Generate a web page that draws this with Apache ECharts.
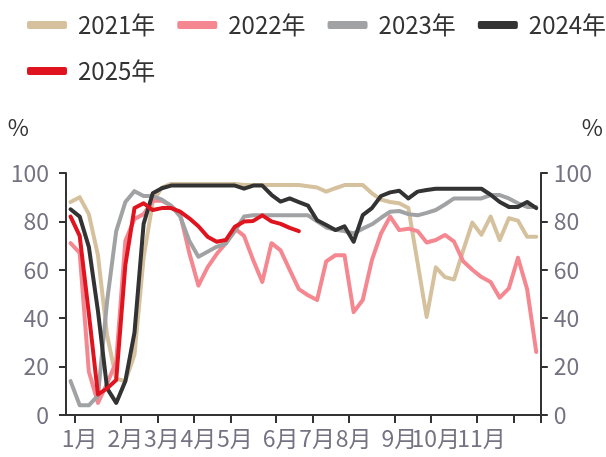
<!DOCTYPE html>
<html>
<head>
<meta charset="utf-8">
<script src="https://cdn.jsdelivr.net/npm/echarts@6/dist/echarts.min.js"></script>
<style>
  html, body { margin: 0; padding: 0; background: #ffffff; }
  #chart { width: 606px; height: 457px; }
</style>
</head>
<body>
<div id="chart"></div>
<script>
// Weekly utilisation rate (%), 52 weeks per year
const weekCount = 52;
const monthLabels = ['1月', '2月', '3月', '4月', '5月', '6月', '7月', '8月', '9月', '10月', '11月', ''];
const monthStartWeek = [1, 6, 10, 14, 18, 23, 27, 31, 36, 40, 45, 49];

const seriesNames = ['2021年', '2022年', '2023年', '2024年', '2025年'];

const y2021 = [88, 90, 83, 66, 33, 15, 14, 25, 65, 88,
  94, 95.5, 95.5, 95.5, 95.5, 95.5, 95.5, 95.5, 95.5, 95,
  95, 95, 95, 95, 95, 95, 94.5, 94, 92.3, 93.7,
  95, 95, 95, 91.6, 89, 88, 87.5, 85.5, 63, 40.5,
  61, 57, 56, 68, 79.5, 74.5, 82, 72.3, 81.3, 80.3,
  73.7, 73.7];

const y2022 = [71, 67, 18, 5, 13, 22, 72, 81, 83, 88.5,
  88.5, 86.5, 83, 67, 53.5, 61, 66.5, 71, 77, 74,
  64, 55, 71, 68, 60, 52, 49.5, 47.5, 63.5, 66,
  66, 42.5, 47.5, 64, 75, 82, 76.4, 77, 76, 71.3,
  72.3, 74.4, 71.6, 63.5, 60, 57, 55, 48.5, 52.3, 65,
  52, 26];

const y2023 = [14, 4, 4, 8, 47, 76, 88, 92.5, 90.5, 90.5,
  89, 86.5, 82, 72, 65.4, 67.5, 69.5, 70.8, 76, 82,
  82.5, 82.5, 82.5, 82.5, 82.5, 82.5, 82.5, 80, 77.5, 76.5,
  76, 75, 77, 78.8, 81.5, 84, 84.3, 83, 82.5, 83.5,
  84.7, 87, 89.5, 89.5, 89.5, 89.5, 90.9, 90.9, 89.5, 87.5,
  86, 86];

const y2024 = [85, 82, 69.5, 43, 11, 5, 14, 34, 79, 91.6,
  93.7, 94.8, 94.8, 94.8, 94.8, 94.8, 94.8, 94.8, 94.8, 93.5,
  94.8, 94.8, 91, 88.2, 89.5, 88, 86.5, 80.5, 78.5, 76.4,
  78, 71.6, 82.6, 85.5, 90.5, 92, 92.7, 89.5, 92.3, 93,
  93.5, 93.5, 93.5, 93.5, 93.5, 93.5, 91, 88, 86, 86,
  88, 85.5];

const y2025 = [82, 74, 42, 8.5, 11, 14.5, 62, 85.5, 87.5, 84.7,
  85.5, 85.5, 84, 81.3, 78, 73.7, 71.6, 72.3, 77.8, 80,
  80.2, 82.5, 80, 79, 77.3, 76];

const lineColors = ['#D5C19E', '#F4878F', '#A0A2A4', '#333333', '#E0141E'];

// Week categories: a week carries its month's name when a month starts in it
const weekCategories = [];
for (let w = 0; w < weekCount; w++) {
  const m = monthStartWeek.indexOf(w);
  weekCategories.push(m >= 0 ? monthLabels[m] : '');
}
const isMonthStart = (idx) => monthStartWeek.indexOf(idx) >= 0;

const FONT = '"Noto Sans CJK SC", "Noto Sans", sans-serif';
const axisColor = '#333333';
const labelColor = '#757382';

const chart = echarts.init(document.getElementById('chart'), null, { renderer: 'canvas' });

const yAxisBase = {
  type: 'value',
  min: 0,
  max: 100,
  interval: 20,
  name: '%',
  nameLocation: 'end',
  nameGap: 34,
  axisLine: { show: true, lineStyle: { color: axisColor, width: 2 } },
  axisTick: { show: true, length: 7, lineStyle: { color: axisColor, width: 2 } },
  splitLine: { show: false },
};

chart.setOption({
  animation: false,
  backgroundColor: '#ffffff',
  textStyle: { fontFamily: FONT },
  color: lineColors,
  legend: {
    data: seriesNames,
    left: 22,
    top: 8,
    width: 584,
    itemWidth: 40,
    itemHeight: 8,
    itemGap: 22,
    icon: 'roundRect',
    textStyle: { fontSize: 24, color: '#333333', fontFamily: FONT, padding: [0, 0, 0, 6] },
  },
  grid: { left: 66, right: 57, top: 173, bottom: 42, containLabel: false },
  xAxis: {
    type: 'category',
    data: weekCategories,
    boundaryGap: true,
    axisLine: { show: true, lineStyle: { color: axisColor, width: 2 } },
    axisTick: { show: true, length: 8, interval: isMonthStart, lineStyle: { color: axisColor, width: 2 } },
    axisLabel: {
      interval: isMonthStart,
      fontSize: 23,
      color: labelColor,
      fontFamily: FONT,
      margin: 12,
    },
    splitLine: { show: false },
  },
  yAxis: [
    Object.assign({}, yAxisBase, {
      position: 'left',
      nameTextStyle: { fontSize: 23, color: '#333333', fontFamily: FONT, align: 'right', padding: [0, 37, 0, 0] },
      axisLabel: { fontSize: 23, color: labelColor, fontFamily: FONT, margin: 17 },
    }),
    Object.assign({}, yAxisBase, {
      position: 'right',
      nameTextStyle: { fontSize: 23, color: '#333333', fontFamily: FONT, align: 'left', padding: [0, 0, 0, 41] },
      axisLabel: { fontSize: 23, color: labelColor, fontFamily: FONT, margin: 13 },
    }),
  ],
  series: [y2021, y2022, y2023, y2024, y2025].map((vals, k) => ({
    name: seriesNames[k],
    type: 'line',
    data: vals,
    yAxisIndex: 0,
    symbol: 'none',
    smooth: false,
    lineStyle: { width: 4, color: lineColors[k], cap: 'round', join: 'round' },
    itemStyle: { color: lineColors[k] },
    z: 2 + k,
  })),
});
</script>
</body>
</html>
